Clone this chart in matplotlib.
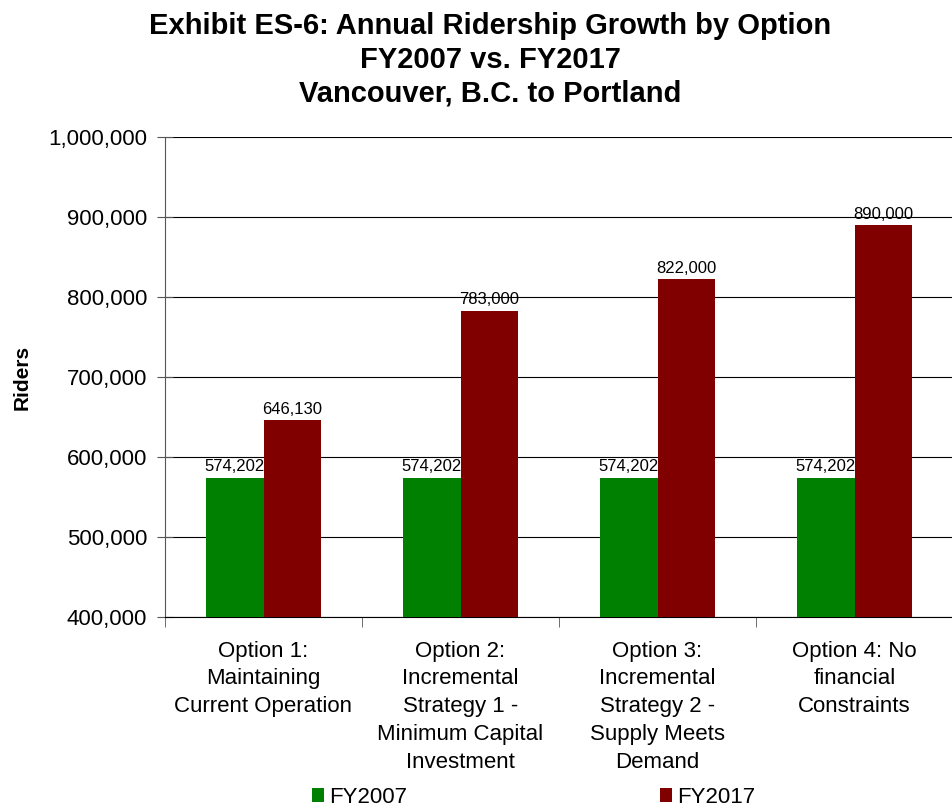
import matplotlib
matplotlib.use("Agg")
import matplotlib.pyplot as plt
import numpy as np
from matplotlib.ticker import FuncFormatter, FixedLocator

plt.rcParams['font.family'] = ['Liberation Sans', 'DejaVu Sans']

options = [
    "Option 1:\nMaintaining\nCurrent Operation",
    "Option 2:\nIncremental\nStrategy 1 -\nMinimum Capital\nInvestment",
    "Option 3:\nIncremental\nStrategy 2 -\nSupply Meets\nDemand",
    "Option 4: No\nfinancial\nConstraints",
]
fy2007 = [574202, 574202, 574202, 574202]
fy2017 = [646130, 783000, 822000, 890000]
series_names = ["FY2007", "FY2017"]
colors = ["#008000", "#800000"]

fig = plt.figure(figsize=(9.52, 8.06), dpi=100)
ax = fig.add_axes([165 / 952, 189 / 806, 788 / 952, 480 / 806])

x = np.arange(len(options))
w = 0.29
b1 = ax.bar(x - w / 2, fy2007, w, color=colors[0], label=series_names[0], zorder=3)
b2 = ax.bar(x + w / 2, fy2017, w, color=colors[1], label=series_names[1], zorder=3)

for bars in (b1, b2):
    for r in bars:
        ax.text(r.get_x() + r.get_width() / 2, r.get_height() + 4000,
                f"{int(r.get_height()):,}", ha="center", va="bottom", fontsize=12)

ax.set_ylim(400000, 1000000)
ax.set_xlim(-0.5, len(options) - 0.5)
ax.yaxis.set_major_locator(FixedLocator(np.arange(400000, 1000001, 100000)))
ax.yaxis.set_major_formatter(FuncFormatter(lambda v, p: f"{int(v):,}"))
ax.grid(axis="y", color="black", linewidth=0.8, zorder=0)

ax.set_xticks(x)
ax.set_xticklabels(options, fontsize=16, linespacing=1.43)
ax.set_xticks(np.arange(-0.5, len(options)), minor=True)
ax.tick_params(axis="x", which="major", length=0, pad=17)
ax.tick_params(axis="x", which="minor", length=7, direction="out", color="#555555")
ax.tick_params(axis="y", labelsize=16, direction="inout", length=12, color="#555555", pad=7)

for s in ("top", "right"):
    ax.spines[s].set_visible(False)
ax.spines["left"].set_color("#555555")
ax.spines["bottom"].set_color("black")

ax.set_ylabel("Riders", fontsize=15, fontweight="bold", labelpad=12)

fig.text(0.515, 0.985,
         "Exhibit ES-6: Annual Ridership Growth by Option\nFY2007 vs. FY2017\nVancouver, B.C. to Portland",
         ha="center", va="top", fontsize=21, fontweight="bold", linespacing=1.27)

fig.legend(handles=[b1, b2], loc="lower left", bbox_to_anchor=(292 / 952, -0.027),
           ncol=2, frameon=False, fontsize=16, handlelength=0.55, handleheight=0.55,
           handletextpad=0.2, columnspacing=11.4)

fig.savefig("out.png", dpi=100)
